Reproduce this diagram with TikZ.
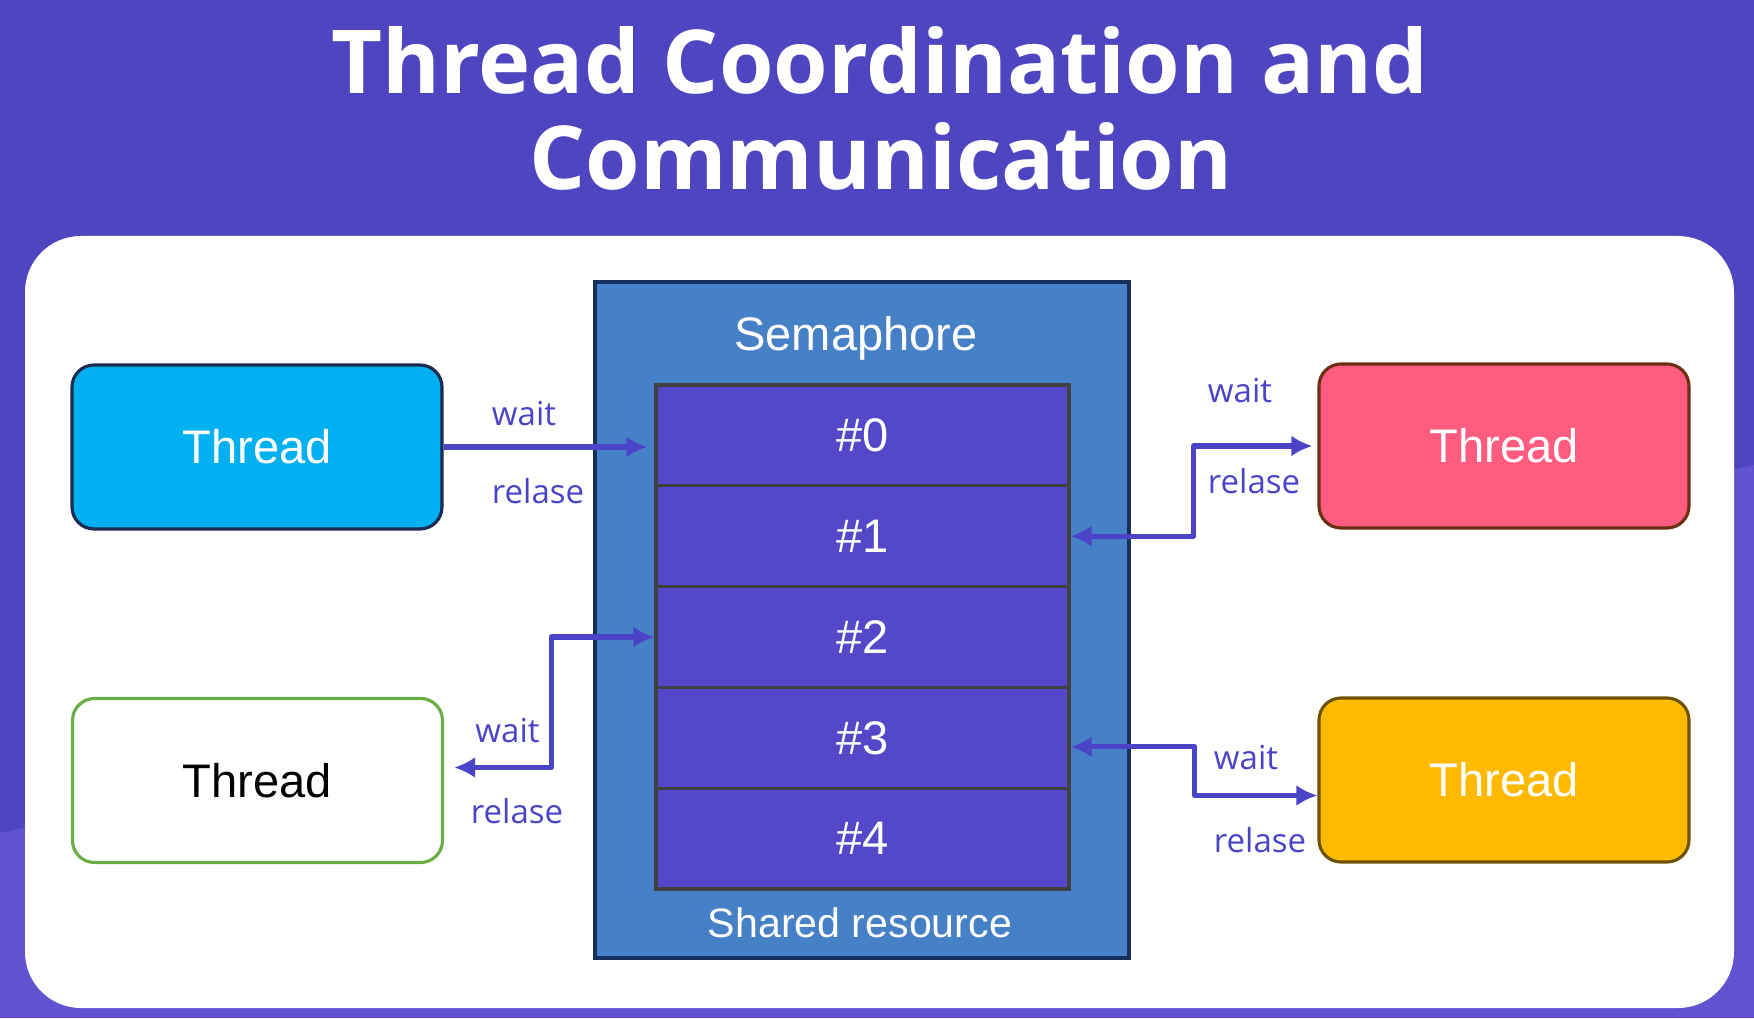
\documentclass[tikz,border=0pt]{standalone}
\usepackage{fontspec}
\setmainfont{Liberation Sans}
\newfontfamily\opensans{Open Sans}
\usepackage{tikz}
\usetikzlibrary{arrows.meta}
\definecolor{bgtop}{HTML}{5045C0}
\definecolor{bgbot}{HTML}{6152D2}
\definecolor{semfill}{HTML}{4680C6}
\definecolor{semedge}{HTML}{16305C}
\definecolor{cellfill}{HTML}{5548C8}
\definecolor{celledge}{HTML}{404040}
\definecolor{wirec}{HTML}{4B44C8}
\definecolor{tcyan}{HTML}{00B0F0}
\definecolor{tcyanedge}{HTML}{1C2B50}
\definecolor{tpink}{HTML}{FF5C80}
\definecolor{tpinkedge}{HTML}{6B3010}
\definecolor{tyellow}{HTML}{FFBA00}
\definecolor{tyellowedge}{HTML}{6E5200}
\definecolor{tgreenedge}{HTML}{6AAE45}

\begin{document}
\begin{tikzpicture}[>={Latex[length=6pt,width=6pt]},
  every node/.style={font=\fontsize{13.4}{16}\selectfont},
  titletext/.style={anchor=base, text=white, font=\opensans\bfseries\fontsize{25.1}{30}\selectfont},
  thread/.style={draw, rounded corners=0.22cm, line width=0.9pt, minimum width=3.7cm, minimum height=1.64cm, text=white},
  cell/.style={draw=celledge, fill=cellfill, line width=0.9pt, minimum width=4.13cm, minimum height=1.008cm, text=white},
  tag/.style={anchor=base, text=wirec, font=\opensans\fontsize{9.4}{11}\selectfont},
  wire/.style={draw=wirec, line width=1.5pt, line join=round}]
\useasboundingbox (0,0) rectangle (17.54,10.18);

% Background and panel
\fill[bgtop] (0,0) rectangle (17.54,10.18);
\fill[bgbot] (0,0) -- (0,1.85) -- (17.54,5.53) -- (17.54,0) -- cycle;
\fill[white, rounded corners=0.56cm] (0.25,0.10) rectangle (17.34,7.82);

% Title
\node[titletext] (title1) at (8.80,9.24) {Thread Coordination and};
\node[titletext] (title2) at (8.81,8.28) {Communication};

% Semaphore with its slots
\node[draw=semedge, fill=semfill, line width=0.9pt, minimum width=5.34cm, minimum height=6.76cm] (sem) at (8.62,3.98) {};
\node[anchor=base, text=white] (semlabel) at (8.56,6.68) {Semaphore};
\foreach \i in {0,...,4}
  \node[cell] (c\i) at (8.625,5.826-1.008*\i) {\#\i};
\node[anchor=base, text=white, font=\fontsize{11.7}{14}\selectfont] (shared) at (8.60,0.81) {Shared resource};

% Threads
\node[thread, fill=tcyan, draw=tcyanedge] (t1) at (2.57,5.71) {Thread};
\node[thread, fill=white, draw=tgreenedge, text=black] (t3) at (2.575,2.375) {Thread};
\node[thread, fill=tpink, draw=tpinkedge] (t2) at (15.04,5.72) {Thread};
\node[thread, fill=tyellow, draw=tyellowedge] (t4) at (15.04,2.38) {Thread};

% Links
\draw[wire, ->, shorten >=0.07cm] (t1.east) -- (t1.east -| c0.west);
\draw[wire, <->, shorten >=0.05cm] (c1.east) -- ++(1.23,0) |- (t2.west);
\draw[wire, <->, shorten >=0.1cm] (c2.west) -- ++(-1.03,0) |- ([yshift=0.13cm]t3.east);
\draw[wire, <->] ([yshift=-0.09cm]c3.east) -- ++(1.24,0) |- ([yshift=-0.155cm]t4.west);

% Link labels
\node[tag] (w1) at (5.24,5.93) {wait};
\node[tag] (r1) at (5.38,5.15) {relase};
\node[tag] (w2) at (12.40,6.16) {wait};
\node[tag] (r2) at (12.54,5.25) {relase};
\node[tag] (w3) at (5.075,2.76) {wait};
\node[tag] (r3) at (5.17,1.95) {relase};
\node[tag] (w4) at (12.46,2.49) {wait};
\node[tag] (r4) at (12.60,1.66) {relase};
\end{tikzpicture}
\end{document}
